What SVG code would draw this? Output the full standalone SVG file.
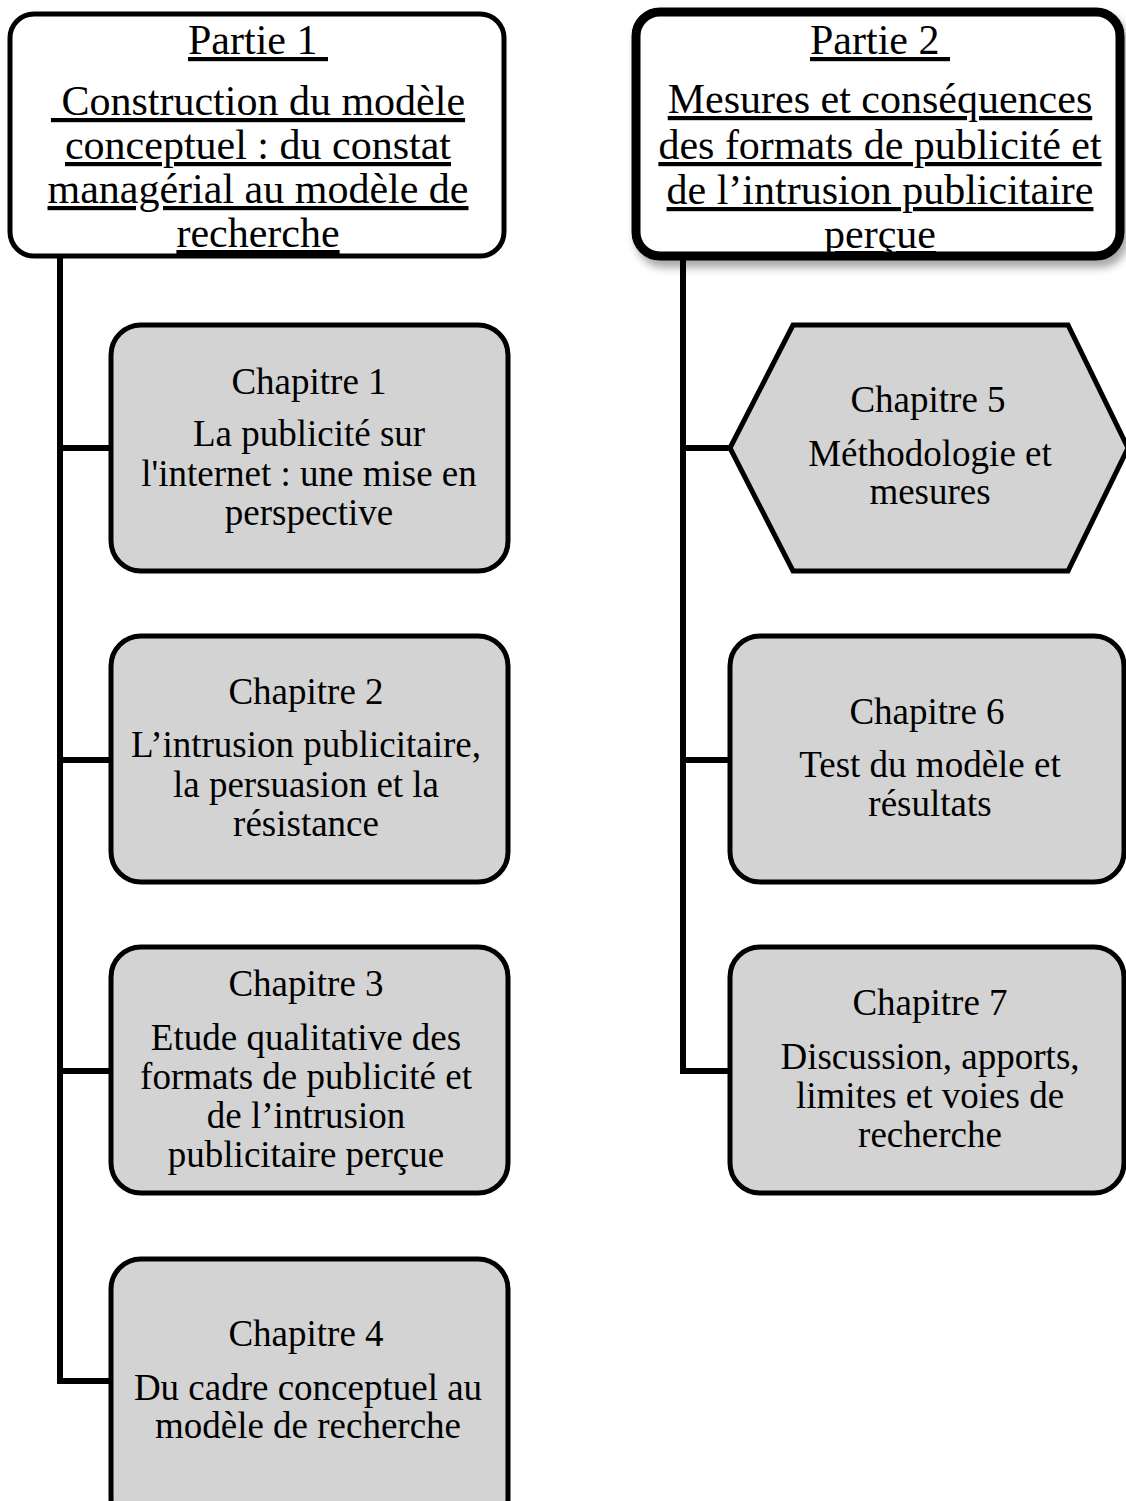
<svg xmlns="http://www.w3.org/2000/svg" width="1126" height="1501" viewBox="0 0 1126 1501">
<style>
text{font-family:"Liberation Serif","Times New Roman",serif;fill:#000;text-anchor:middle;white-space:pre}
.p{font-size:42px;text-decoration:underline}
.c{font-size:37px}
.box{fill:#d3d3d3;stroke:#000;stroke-width:5}
.conn{fill:none;stroke:#000;stroke-width:6;stroke-linejoin:miter}
</style>
<defs>
<filter id="sh" x="-10%" y="-10%" width="125%" height="130%">
<feDropShadow dx="4" dy="7" stdDeviation="4" flood-color="#000" flood-opacity="0.35"/>
</filter>
</defs>
<rect width="1126" height="1501" fill="#fff"/>
<g id="connectors">
<path class="conn" d="M60,256 V1381 H111"/>
<path class="conn" d="M60,448 H111 M60,760 H111 M60,1071 H111"/>
<path class="conn" d="M683,256 V1071 H730"/>
<path class="conn" d="M683,448 H730 M683,760 H730"/>
</g>
<g id="partie1">
<rect x="10" y="14" width="494" height="242" rx="24" fill="#fff" stroke="#000" stroke-width="5"/>
<text class="p" x="258" y="54">Partie 1 </text>
<text class="p" x="258" y="115"> Construction du modèle</text>
<text class="p" x="258" y="159">conceptuel : du constat</text>
<text class="p" x="258" y="203">managérial au modèle de</text>
<text class="p" x="258" y="247">recherche</text>
</g>
<g id="partie2">
<rect x="636" y="12" width="484" height="244" rx="24" fill="#fff" stroke="#000" stroke-width="9" filter="url(#sh)"/>
<text class="p" x="880" y="54">Partie 2 </text>
<text class="p" x="880" y="113">Mesures et conséquences</text>
<text class="p" x="880" y="159">des formats de publicité et</text>
<text class="p" x="880" y="204">de l’intrusion publicitaire</text>
<text class="p" x="880" y="248">perçue</text>
</g>
<g id="chapitre1">
<rect class="box" x="111" y="325" width="397" height="246" rx="30"/>
<text class="c" x="309" y="394">Chapitre 1</text>
<text class="c" x="309" y="446">La publicité sur</text>
<text class="c" x="309" y="486">l'internet : une mise en</text>
<text class="c" x="309" y="525">perspective</text>
</g>
<g id="chapitre2">
<rect class="box" x="111" y="636" width="397" height="246" rx="30"/>
<text class="c" x="306" y="704">Chapitre 2</text>
<text class="c" x="306" y="757">L’intrusion publicitaire,</text>
<text class="c" x="306" y="797">la persuasion et la</text>
<text class="c" x="306" y="836">résistance</text>
</g>
<g id="chapitre3">
<rect class="box" x="111" y="947" width="397" height="246" rx="30"/>
<text class="c" x="306" y="996">Chapitre 3</text>
<text class="c" x="306" y="1050">Etude qualitative des</text>
<text class="c" x="306" y="1089">formats de publicité et</text>
<text class="c" x="306" y="1128">de l’intrusion</text>
<text class="c" x="306" y="1167">publicitaire perçue</text>
</g>
<g id="chapitre4">
<rect class="box" x="111" y="1259" width="397" height="270" rx="30"/>
<text class="c" x="306" y="1346">Chapitre 4</text>
<text class="c" x="308" y="1400">Du cadre conceptuel au</text>
<text class="c" x="308" y="1438">modèle de recherche</text>
</g>
<g id="chapitre5">
<polygon class="box" points="730,448 793,325 1068,325 1128,448 1068,571 793,571"/>
<text class="c" x="928" y="412">Chapitre 5</text>
<text class="c" x="930" y="466">Méthodologie et</text>
<text class="c" x="930" y="504">mesures</text>
</g>
<g id="chapitre6">
<rect class="box" x="730" y="636" width="394" height="246" rx="30"/>
<text class="c" x="927" y="724">Chapitre 6</text>
<text class="c" x="930" y="777">Test du modèle et</text>
<text class="c" x="930" y="816">résultats</text>
</g>
<g id="chapitre7">
<rect class="box" x="730" y="947" width="394" height="246" rx="30"/>
<text class="c" x="930" y="1015">Chapitre 7</text>
<text class="c" x="930" y="1069">Discussion, apports,</text>
<text class="c" x="930" y="1108">limites et voies de</text>
<text class="c" x="930" y="1147">recherche</text>
</g>
</svg>
